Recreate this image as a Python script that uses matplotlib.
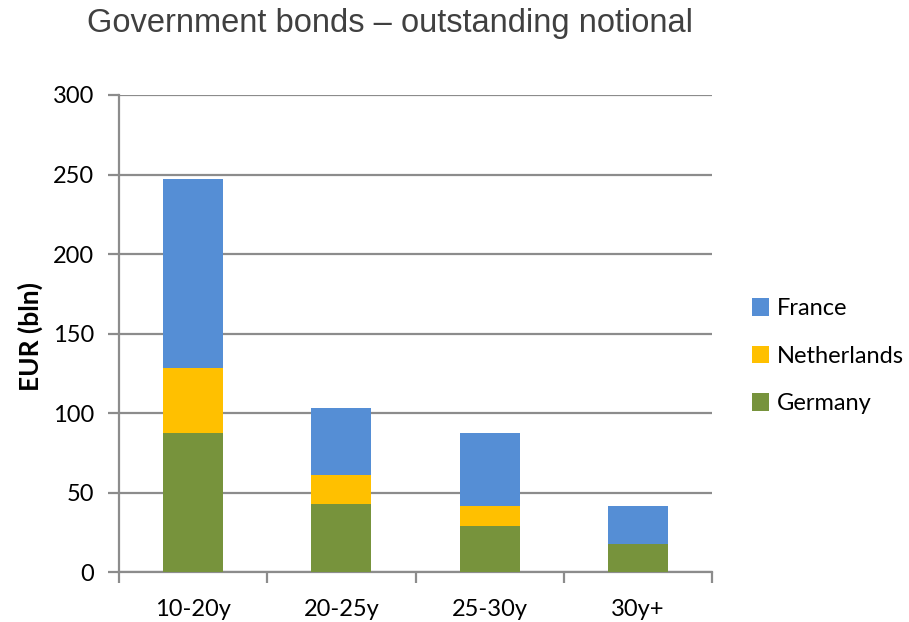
import matplotlib
matplotlib.use("Agg")
import matplotlib.pyplot as plt
import numpy as np

categories = ["10-20y", "20-25y", "25-30y", "30y+"]
germany = [87.5, 43, 29, 18]
netherlands = [41, 18.5, 12.5, 0]
france = [119, 42, 46, 24]
yticks = [0, 50, 100, 150, 200, 250, 300]

c_fr = "#558ed5"
c_nl = "#ffc000"
c_de = "#77933c"
grid_c = "#8c8c8c"

fig = plt.figure(figsize=(9.09, 6.22), dpi=100)
ax = fig.add_axes([0.1309, 0.0796, 0.6524, 0.7677])

x = np.arange(len(categories))
w = 0.405
b_de = ax.bar(x, germany, w, color=c_de, label="Germany", zorder=3)
b_nl = ax.bar(x, netherlands, w, bottom=germany, color=c_nl, label="Netherlands", zorder=3)
bottom2 = np.array(germany) + np.array(netherlands)
b_fr = ax.bar(x, france, w, bottom=bottom2, color=c_fr, label="France", zorder=3)

ax.set_xlim(-0.5, len(categories) - 0.5)
ax.set_ylim(0, 300)
ax.set_yticks(yticks)
ax.yaxis.grid(True, color=grid_c, linewidth=1.6, zorder=0)
ax.set_axisbelow(True)

ax.set_xticks(x)
ax.set_xticklabels(categories)
ax.set_xticks(np.arange(-0.5, len(categories)), minor=True)
ax.tick_params(axis="x", which="major", length=0, pad=19, labelsize=17)
ax.tick_params(axis="x", which="minor", length=8, width=1.6, color=grid_c)
ax.tick_params(axis="y", length=8, width=1.6, color=grid_c, pad=10, labelsize=17)
for lbl in ax.get_xticklabels() + ax.get_yticklabels():
    lbl.set_family("Lato")
    lbl.set_color("#000000")

for s in ["top", "right"]:
    ax.spines[s].set_visible(False)
for s in ["left", "bottom"]:
    ax.spines[s].set_color(grid_c)
    ax.spines[s].set_linewidth(1.6)

ax.set_ylabel("EUR (bln)", fontsize=19, fontweight="bold", family="Lato")
ax.yaxis.set_label_coords(-0.128, 0.495)

fig.text(0.096, 0.962, "Government bonds \u2013 outstanding notional", fontsize=23.5,
         family="Liberation Sans", color="#404040", va="center", ha="left")

leg = ax.legend(handles=[b_fr, b_nl, b_de], labels=["France", "Netherlands", "Germany"],
                loc="center left", bbox_to_anchor=(1.047, 0.453), frameon=False,
                prop={"family": "Lato", "size": 17}, handlelength=0.75, handleheight=0.75,
                labelspacing=1.12, handletextpad=0.3, borderpad=0)

fig.savefig("out.png", dpi=100)
